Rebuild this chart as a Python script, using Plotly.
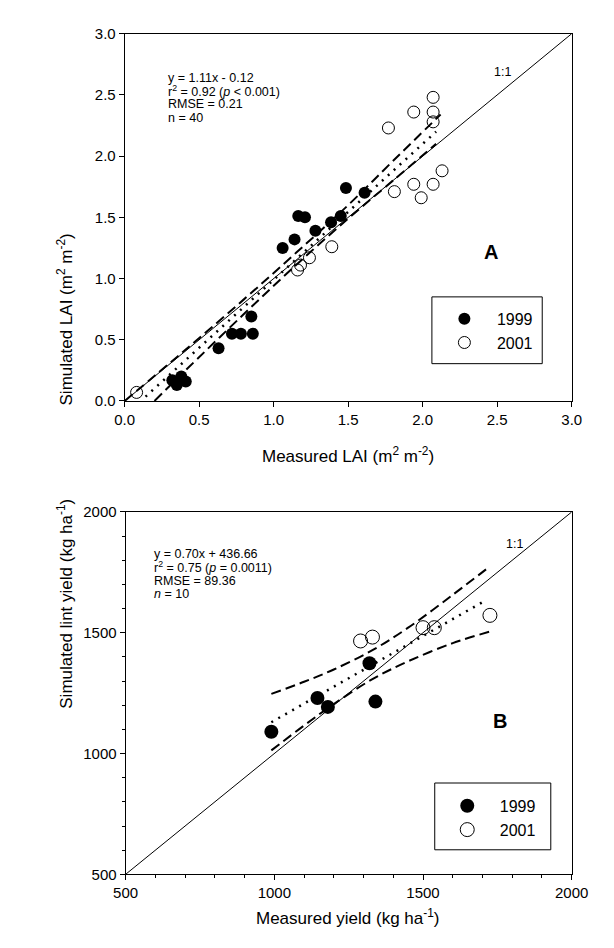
import plotly.graph_objects as go

# ---------------- data ----------------
# Panel A: LAI (m2 m-2)
a1999_meas = [0.32, 0.35, 0.38, 0.41, 0.63, 0.72, 0.78, 0.86, 0.85, 1.06, 1.14, 1.165, 1.21, 1.28, 1.385, 1.45, 1.485, 1.61]
a1999_sim = [0.17, 0.13, 0.20, 0.16, 0.43, 0.55, 0.55, 0.55, 0.69, 1.25, 1.32, 1.51, 1.50, 1.39, 1.46, 1.51, 1.74, 1.70]
a2001_meas = [0.08, 1.16, 1.18, 1.24, 1.39, 1.77, 1.81, 1.94, 1.94, 1.99, 2.07, 2.07, 2.07, 2.07, 2.13]
a2001_sim = [0.07, 1.07, 1.11, 1.17, 1.26, 2.23, 1.71, 2.36, 1.77, 1.66, 2.48, 2.36, 2.28, 1.77, 1.88]
a_slope, a_intercept = 1.11, -0.12
a_fit_x = [0.14, 2.09]
a_upper_x = [0.0, 0.4, 0.8, 1.15, 1.5, 1.8, 2.12]
a_upper_y = [0.0, 0.41, 0.83, 1.21, 1.60, 1.96, 2.34]
a_lower_x = [0.2, 0.4, 0.8, 1.15, 1.5, 1.8, 2.09]
a_lower_y = [0.0, 0.24, 0.71, 1.11, 1.49, 1.80, 2.10]
a_range = [0.0, 3.0]
a_ticks = [0.0, 0.5, 1.0, 1.5, 2.0, 2.5, 3.0]
a_stats = ["y = 1.11x - 0.12", "r<sup>2</sup> = 0.92 (<i>p</i> < 0.001)", "RMSE = 0.21", "n = 40"]

# Panel B: lint yield (kg ha-1)
b1999_meas = [990, 1145, 1180, 1320, 1340]
b1999_sim = [1090, 1230, 1193, 1374, 1215]
b2001_meas = [1290, 1330, 1500, 1538, 1725]
b2001_sim = [1466, 1482, 1521, 1521, 1572]
b_slope, b_intercept = 0.70, 436.66
b_fit_x = [990, 1715]
b_upper_x = [990, 1100, 1200, 1330, 1450, 1600, 1725]
b_upper_y = [1247, 1297, 1348, 1428, 1521, 1657, 1775]
b_lower_x = [990, 1100, 1200, 1330, 1450, 1600, 1725]
b_lower_y = [1013, 1116, 1205, 1308, 1382, 1457, 1505]
b_range = [500, 2000]
b_ticks = [500, 1000, 1500, 2000]
b_stats = ["y = 0.70x + 436.66", "r<sup>2</sup> = 0.75 (<i>p</i> = 0.0011)", "RMSE = 89.36", "<i>n</i> = 10"]

# ---------------- layout helpers ----------------
W, H = 614, 948
FONT = "Arial, 'Liberation Sans', sans-serif"


def fx(p):
    return p / W


def fy(p):
    return 1 - p / H


A_X = [109, 579]
A_Y = [17, 391]
B_X = [110, 579]
B_Y = [504, 873]

fig = go.Figure()

dash_line = dict(color="black", width=2, dash="10px,5px")
dot_line = dict(color="black", width=2.5, dash="2px,6px")
one_line = dict(color="black", width=1)


def add_panel(xa, ya, leg, m99x, m99y, m01x, m01y, slope, inter, fitx, ux, uy, lx, ly, rng, msize):
    fig.add_trace(go.Scatter(x=m99x, y=m99y, mode="markers", name="1999", xaxis=xa, yaxis=ya, legend=leg,
                             marker=dict(symbol="circle", color="black", size=msize)))
    fig.add_trace(go.Scatter(x=m01x, y=m01y, mode="markers", name="2001", xaxis=xa, yaxis=ya, legend=leg,
                             marker=dict(symbol="circle-open", color="black", size=msize, line=dict(width=1))))
    fig.add_trace(go.Scatter(x=rng, y=rng, mode="lines", line=one_line, showlegend=False, xaxis=xa, yaxis=ya))
    fig.add_trace(go.Scatter(x=fitx, y=[slope * v + inter for v in fitx], mode="lines", line=dot_line,
                             showlegend=False, xaxis=xa, yaxis=ya))
    fig.add_trace(go.Scatter(x=ux, y=uy, mode="lines", line=dash_line, line_shape="spline",
                             showlegend=False, xaxis=xa, yaxis=ya))
    fig.add_trace(go.Scatter(x=lx, y=ly, mode="lines", line=dash_line, line_shape="spline",
                             showlegend=False, xaxis=xa, yaxis=ya))


add_panel("x", "y", "legend", a1999_meas, a1999_sim, a2001_meas, a2001_sim, a_slope, a_intercept, a_fit_x,
          a_upper_x, a_upper_y, a_lower_x, a_lower_y, a_range, 12)
add_panel("x2", "y2", "legend2", b1999_meas, b1999_sim, b2001_meas, b2001_sim, b_slope, b_intercept, b_fit_x,
          b_upper_x, b_upper_y, b_lower_x, b_lower_y, b_range, 14)

axis_common = dict(showline=True, linecolor="black", linewidth=1, mirror=True, ticks="outside", ticklen=5,
                   tickwidth=1, tickcolor="black", showgrid=False, zeroline=False,
                   tickfont=dict(family=FONT, size=15, color="black"))

fig.update_layout(
    width=W, height=H, margin=dict(l=0, r=0, t=0, b=0),
    paper_bgcolor="white", plot_bgcolor="white",
    font=dict(family=FONT, color="black", size=15),
    xaxis=dict(domain=[fx(A_X[0]), fx(A_X[1])], range=a_range, tickvals=a_ticks, tickformat=".1f",
               anchor="y", **axis_common),
    yaxis=dict(domain=[fy(A_Y[1]), fy(A_Y[0])], range=a_range, tickvals=a_ticks, tickformat=".1f",
               anchor="x", **axis_common),
    xaxis2=dict(domain=[fx(B_X[0]), fx(B_X[1])], range=b_range, tickvals=b_ticks, anchor="y2",
                minor=dict(dtick=100, ticks="outside", ticklen=3, tickcolor="black"), **axis_common),
    yaxis2=dict(domain=[fy(B_Y[1]), fy(B_Y[0])], range=b_range, tickvals=b_ticks, anchor="x2",
                minor=dict(dtick=100, ticks="outside", ticklen=3, tickcolor="black"), **axis_common),
    legend=dict(x=fx(432), y=fy(290), xanchor="left", yanchor="top", bgcolor="rgba(0,0,0,0)",
                borderwidth=0, font=dict(family=FONT, size=16), itemwidth=55),
    legend2=dict(x=fx(435), y=fy(786), xanchor="left", yanchor="top", bgcolor="rgba(0,0,0,0)",
                 borderwidth=0, font=dict(family=FONT, size=16), itemwidth=55),
    showlegend=True,
)

# legend frames
fig.add_shape(type="rect", xref="paper", yref="paper", x0=fx(432), x1=fx(548), y0=fy(353), y1=fy(285),
              line=dict(color="black", width=1))
fig.add_shape(type="rect", xref="paper", yref="paper", x0=fx(435), x1=fx(557), y0=fy(848), y1=fy(780),
              line=dict(color="black", width=1))

ann = []
# stats text
for i, t in enumerate(a_stats):
    ann.append(dict(x=fx(152), y=fy(62 + 13.5 * i), xref="paper", yref="paper", text=t, showarrow=False,
                    xanchor="left", yanchor="middle", font=dict(family=FONT, size=12.5)))
for i, t in enumerate(b_stats):
    ann.append(dict(x=fx(138), y=fy(547 + 13.5 * i), xref="paper", yref="paper", text=t, showarrow=False,
                    xanchor="left", yanchor="middle", font=dict(family=FONT, size=12.5)))
# 1:1 labels and panel letters
ann.append(dict(x=fx(517), y=fy(47), xref="paper", yref="paper", text="1:1", showarrow=False,
                font=dict(family=FONT, size=12.5)))
ann.append(dict(x=fx(530), y=fy(537), xref="paper", yref="paper", text="1:1", showarrow=False,
                font=dict(family=FONT, size=12.5)))
ann.append(dict(x=fx(504), y=fy(226), xref="paper", yref="paper", text="<b>A</b>", showarrow=False,
                font=dict(family=FONT, size=20)))
ann.append(dict(x=fx(513), y=fy(730), xref="paper", yref="paper", text="<b>B</b>", showarrow=False,
                font=dict(family=FONT, size=20)))
# axis titles
ann.append(dict(x=fx(344), y=fy(446), xref="paper", yref="paper", text="Measured LAI (m<sup>2</sup> m<sup>-2</sup>)",
                showarrow=False, font=dict(family=FONT, size=17)))
ann.append(dict(x=fx(33), y=fy(218), xref="paper", yref="paper", text="Simulated LAI (m<sup>2</sup> m<sup>-2</sup>)",
                showarrow=False, textangle=-90, font=dict(family=FONT, size=17)))
ann.append(dict(x=fx(344), y=fy(930), xref="paper", yref="paper", text="Measured yield (kg ha<sup>-1</sup>)",
                showarrow=False, font=dict(family=FONT, size=17)))
ann.append(dict(x=fx(33), y=fy(706), xref="paper", yref="paper", text="Simulated lint yield (kg ha<sup>-1</sup>)",
                showarrow=False, textangle=-90, font=dict(family=FONT, size=17)))
fig.update_layout(annotations=ann)

fig.write_html("out.html")
